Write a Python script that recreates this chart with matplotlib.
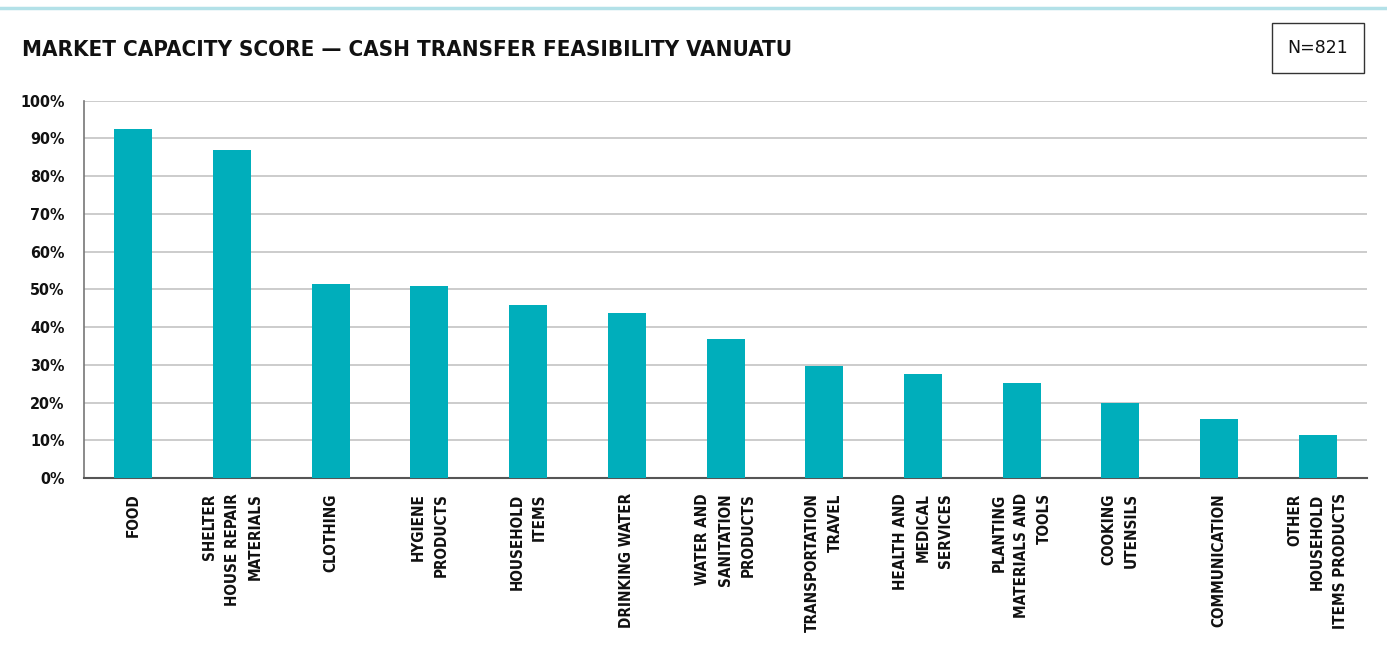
import matplotlib
matplotlib.use("Agg")
import matplotlib.pyplot as plt
from matplotlib.lines import Line2D

categories = [
    "FOOD",
    "SHELTER\nHOUSE REPAIR\nMATERIALS",
    "CLOTHING",
    "HYGIENE\nPRODUCTS",
    "HOUSEHOLD\nITEMS",
    "DRINKING WATER",
    "WATER AND\nSANITATION\nPRODUCTS",
    "TRANSPORTATION\nTRAVEL",
    "HEALTH AND\nMEDICAL\nSERVICES",
    "PLANTING\nMATERIALS AND\nTOOLS",
    "COOKING\nUTENSILS",
    "COMMUNICATION",
    "OTHER\nHOUSEHOLD\nITEMS PRODUCTS",
]
scores = [92.4, 86.9, 51.3, 50.8, 45.8, 43.6, 36.7, 29.6, 27.5, 25.3, 19.8, 15.5, 11.3]
yticks = list(range(0, 101, 10))
ytick_labels = [f"{v}%" for v in yticks]

bar_color = "#00aebb"
font = dict(family="DejaVu Sans", stretch="condensed", weight="bold")

fig = plt.figure(figsize=(13.87, 6.53), dpi=100)
ax = fig.add_axes([0.0606, 0.268, 0.925, 0.578])

x = list(range(len(categories)))
ax.bar(x, scores, width=0.385, color=bar_color, zorder=3)

ax.set_xlim(-0.5, len(categories) - 0.5)
ax.set_ylim(0, 100)
ax.set_yticks(yticks)
ax.set_yticklabels(ytick_labels, fontsize=11.5, color="#111111", **font)
ax.tick_params(axis="y", length=0, pad=14)
ax.yaxis.grid(True, color="#c4c4c4", linewidth=1.2, zorder=0)

ax.set_xticks(x)
ax.set_xticklabels(categories, rotation=90, fontsize=11, color="#111111",
                   va="top", ha="center", multialignment="right",
                   linespacing=1.65, **font)
ax.tick_params(axis="x", length=0, pad=11)

for side in ["top", "right"]:
    ax.spines[side].set_visible(False)
ax.spines["left"].set_color("#777777")
ax.spines["left"].set_linewidth(1.2)
ax.spines["bottom"].set_color("#555555")
ax.spines["bottom"].set_linewidth(1.5)

# top accent line
fig.add_artist(Line2D([0, 1], [1 - 8 / 653, 1 - 8 / 653], color="#b3e1e8",
                      linewidth=2.5, transform=fig.transFigure))

fig.text(22 / 1387, 1 - 50 / 653, "MARKET CAPACITY SCORE \u2014 CASH TRANSFER FEASIBILITY VANUATU",
         fontsize=16, color="#111111", va="center", ha="left", **font)

fig.text(1318 / 1387, 1 - 48 / 653, "N=821", fontsize=12.5, color="#111111",
         family="DejaVu Sans", ha="center", va="center",
         bbox=dict(boxstyle="square,pad=0.9", facecolor="white", edgecolor="#333333", linewidth=1))

fig.savefig("out.png", dpi=100)
